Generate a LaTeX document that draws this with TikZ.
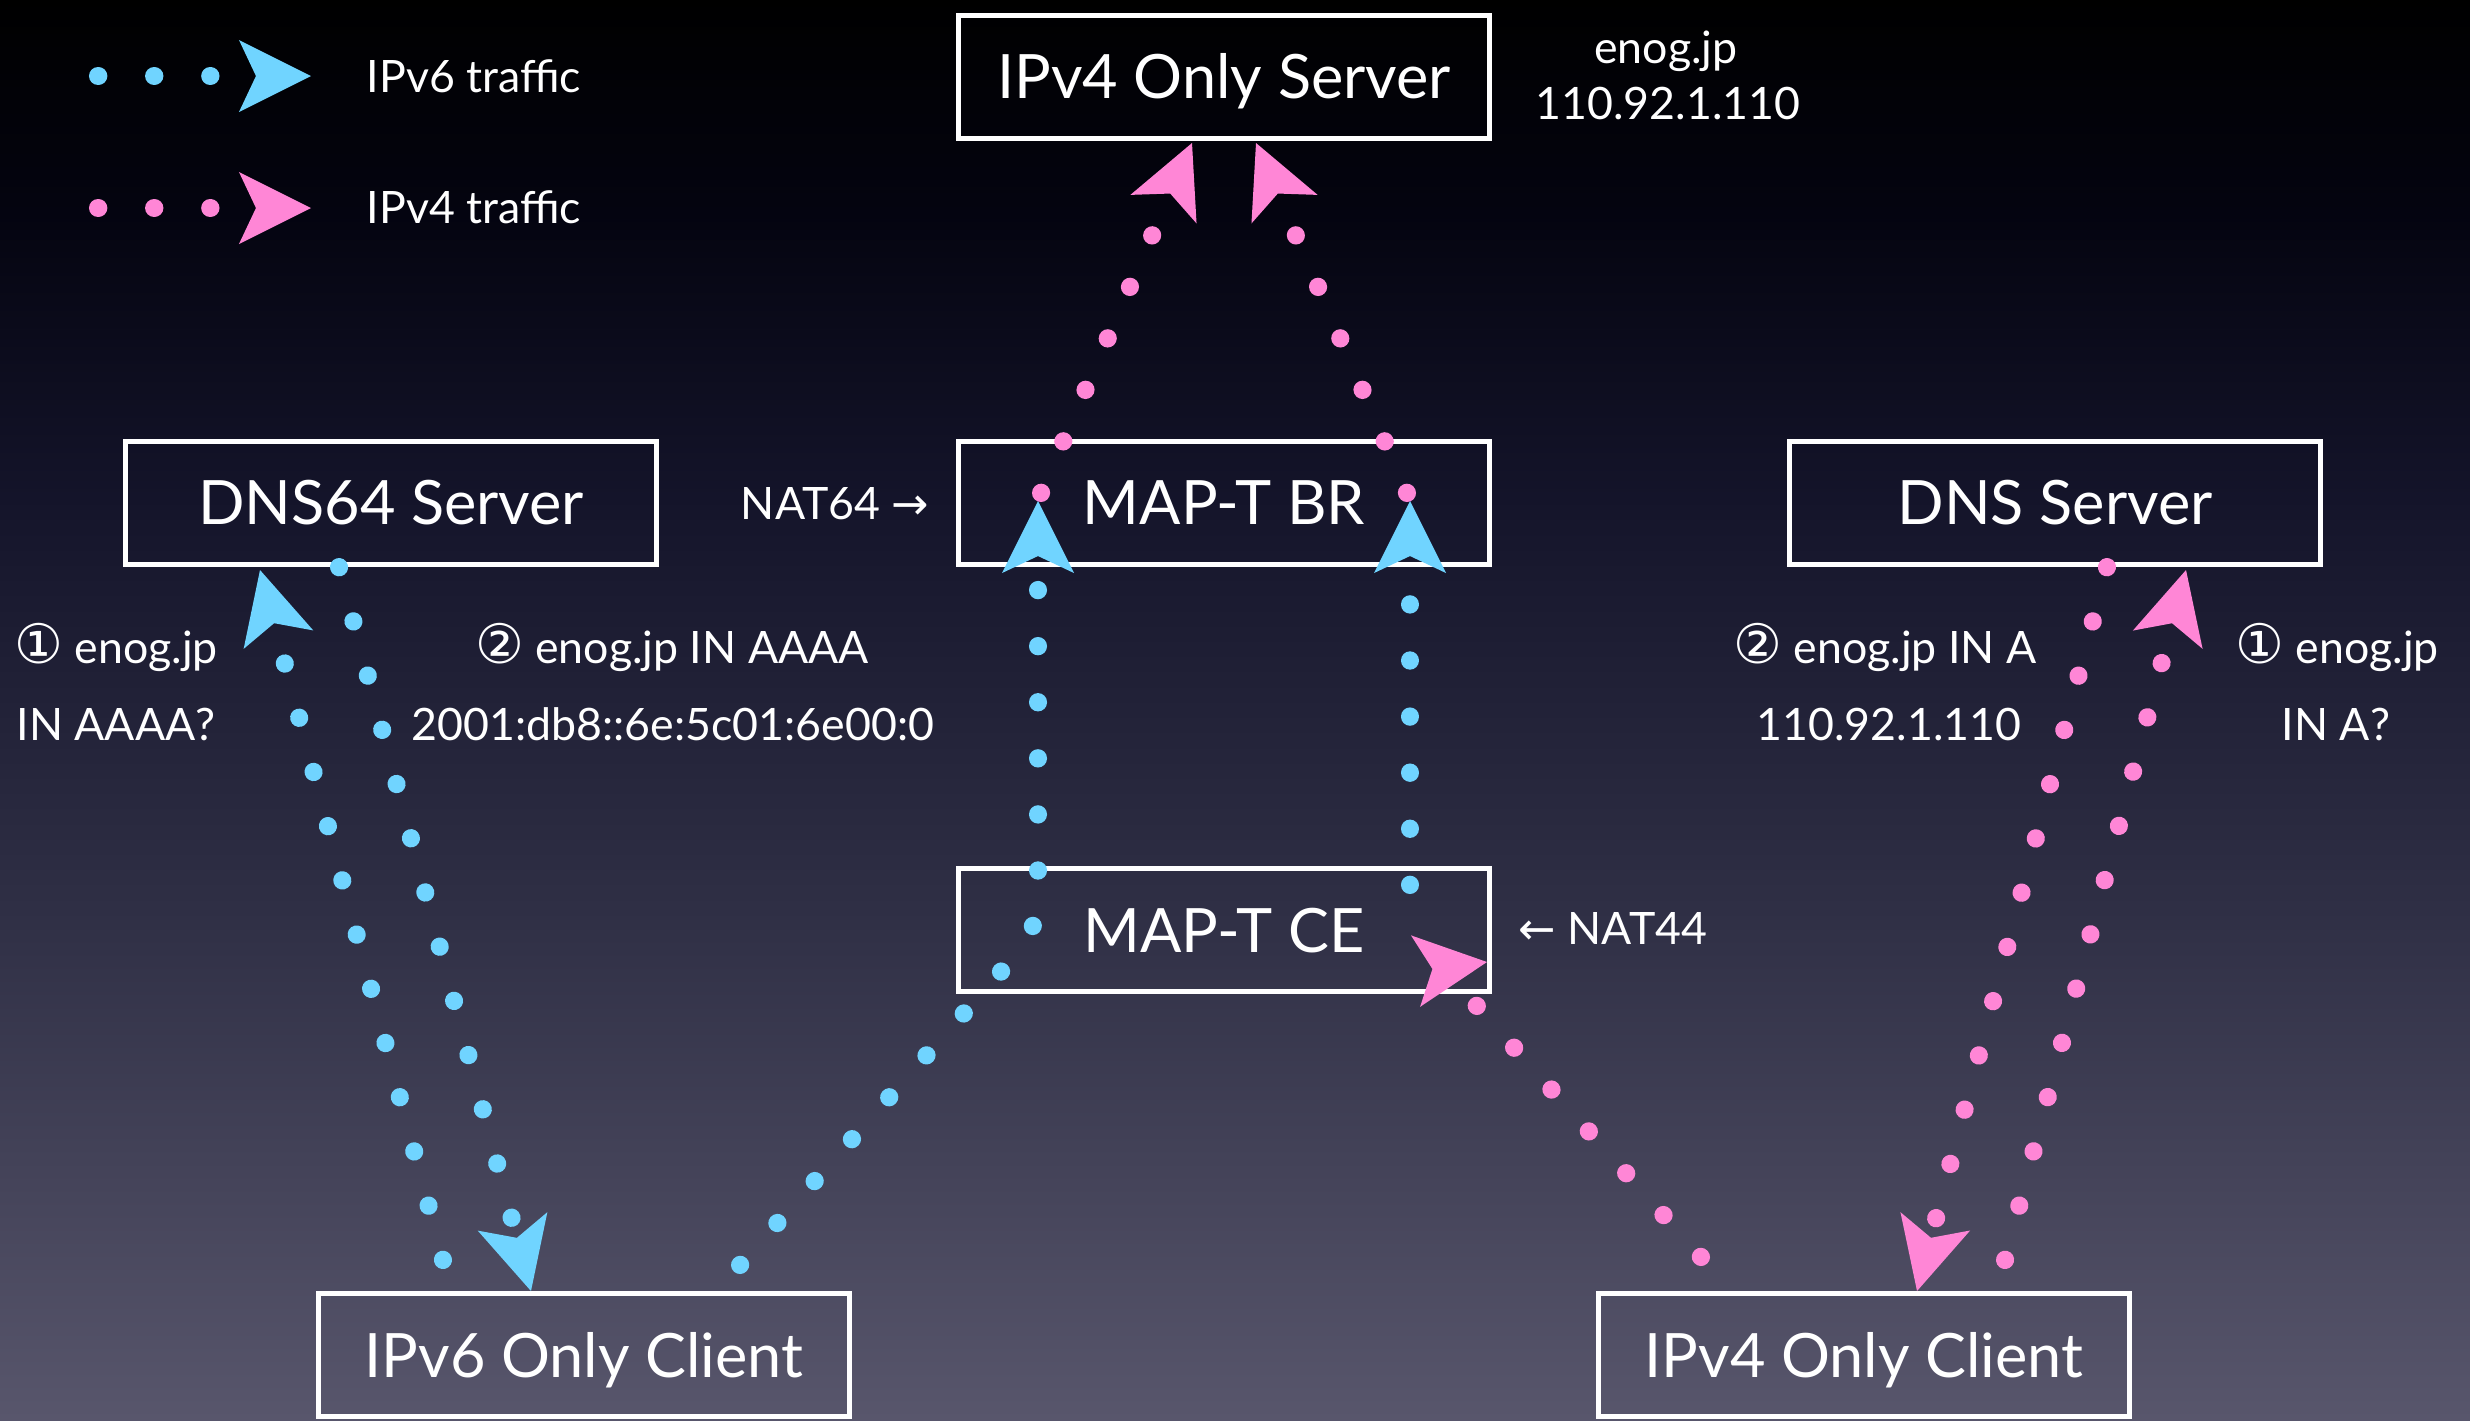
\documentclass[tikz,border=0pt]{standalone}
\usepackage{fontspec}
\setmainfont{Lato}
\newfontfamily\dejavu{DejaVu Sans}
\usetikzlibrary{arrows.meta,calc}
\definecolor{v6blue}{RGB}{112,212,255}
\definecolor{v4pink}{RGB}{255,134,214}
\definecolor{bgbot}{RGB}{88,86,108}
\definecolor{bglow}{RGB}{48,48,70}
\definecolor{bgmid}{RGB}{20,20,42}
\definecolor{bgtop}{RGB}{4,4,16}
\pgfdeclareverticalshading{bgfade}{100bp}{color(0bp)=(bgbot); color(25bp)=(bgbot); color(42.5bp)=(bglow); color(57.5bp)=(bgmid); color(67.5bp)=(bgtop); color(75bp)=(black); color(100bp)=(black)}
\newcommand{\boxfont}{\fontsize{17.4}{20}\selectfont}
\newcommand{\lblfont}{\fontsize{12.7}{15}\selectfont}
\newcommand{\circnum}[1]{{\dejavu\fontsize{15.5}{15}\selectfont #1}}
\tikzset{
  box/.style={draw=white, line width=0.05cm, minimum width=5.31cm, minimum height=1.23cm, inner sep=0pt, text=white, font=\boxfont, text height=12.5pt, text depth=0pt},
  lbl/.style={text=white, font=\lblfont, inner sep=0pt, anchor=base},
  flow/.style={line width=0.18cm, line cap=round, dash pattern=on 0.1pt off 0.557cm, -{Stealth[length=0.72cm, width=0.72cm, inset=0.17cm, line width=0pt]}},
  v6/.style={flow, draw=v6blue},
  v4/.style={flow, draw=v4pink},
  tiponly/.style={solid, line width=0.1pt, line cap=butt},
}
\begin{document}
\begin{tikzpicture}[x=0.01cm, y=-0.01cm]
\useasboundingbox (0,0) rectangle (2470,1420);
\shade[shading=bgfade] (0,0) rectangle (2470,1420);

\node[box] (v4srv) at (1224,77) {IPv4 Only Server};
\node[box] (br) at (1224,503) {MAP-T BR};
\node[box] (dns64) at (391,503) {DNS64 Server};
\node[box] (dns) at (2055,503) {DNS Server};
\node[box] (ce) at (1224,930) {MAP-T CE};
\node[box] (v6c) at (584,1355) {IPv6 Only Client};
\node[box] (v4c) at (1864,1355) {IPv4 Only Client};

\node[lbl, anchor=base west] (lg6) at (366,92) {IPv6 traffic};
\node[lbl, anchor=base west] (lg4) at (366,223) {IPv4 traffic};
\coordinate (lg6s) at (98,76);
\coordinate (lg6e) at (311,76);
\coordinate (lg4s) at (98,208);
\coordinate (lg4e) at (311,208);
\draw[v6] (lg6s) -- (lg6e);
\draw[v4] (lg4s) -- (lg4e);

\node[lbl] (dom) at (1666,63) {enog.jp};
\node[lbl] (addr) at (1668,119) {110.92.1.110};
\node[lbl] (q6a) at (116,663) {\circnum{①} enog.jp};
\node[lbl] (q6b) at (116,740) {IN AAAA?};
\node[lbl] (r6a) at (672,663) {\circnum{②} enog.jp IN AAAA};
\node[lbl] (r6b) at (673,740) {2001:db8::6e:5c01:6e00:0};
\node[lbl] (r4a) at (1885,663) {\circnum{②} enog.jp IN A};
\node[lbl] (r4b) at (1889,740) {110.92.1.110};
\node[lbl] (q4a) at (2337,663) {\circnum{①} enog.jp};
\node[lbl] (q4b) at (2336,740) {IN A?};
\node[lbl] (nat64) at (835,519) {NAT64 {\dejavu →}};
\node[lbl] (nat44) at (1613,944) {{\dejavu ←} NAT44};

\draw[v6] ($(v6c)+(-141,-95)$) -- ($(dns64)+(-131,67)$);
\draw[v6] ($(dns64)+(-52,64)$) -- ($(v6c)+(-53,-64)$);
\draw[v6, rounded corners=0.3cm] ($(v6c)+(156,-90)$) -- ($(ce)+(-186,0)$) -- ($(br)+(-186,-2)$);
\draw[v4] ($(br)+(-183,-10)$) -- ($(v4srv)+(-32,66)$);
\draw[v4, -] ($(v4c)+(-163,-98)$) -- ($(ce)+(252,75)$);
\draw[v4, tiponly] ($(ce)+(208,39)$) -- ($(ce)+(263,32)$);
\draw[v6] ($(ce)+(186,-45)$) -- ($(br)+(186,-2)$);
\draw[v4] ($(br)+(183,-10)$) -- ($(v4srv)+(32,66)$);
\draw[v4] ($(v4c)+(141,-95)$) -- ($(dns)+(131,67)$);
\draw[v4] ($(dns)+(52,64)$) -- ($(v4c)+(53,-64)$);
\end{tikzpicture}
\end{document}
